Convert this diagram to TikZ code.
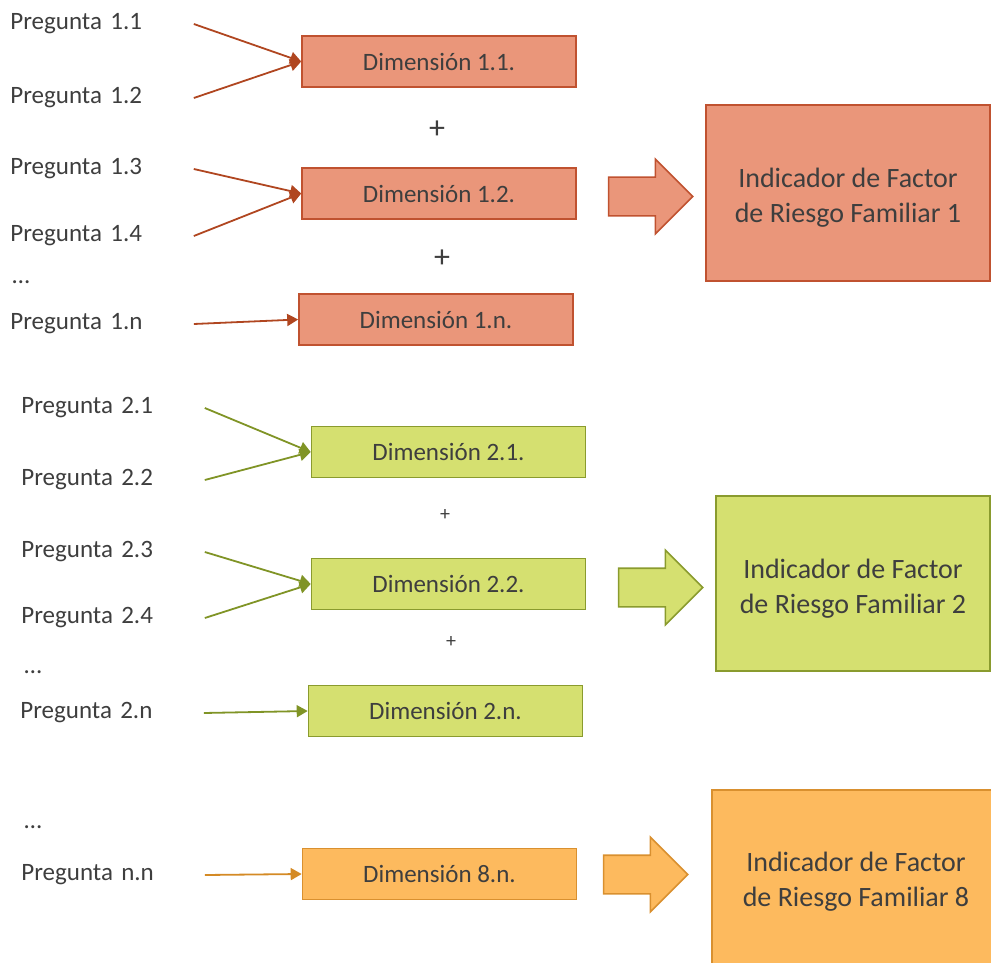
\documentclass[tikz,border=0pt]{standalone}
\usepackage{fontspec}
\setmainfont{Carlito}
\usepackage{xcolor}
\usetikzlibrary{arrows.meta,shapes.arrows}
\definecolor{rojocolor}{RGB}{234, 150, 122}
\definecolor{rojoborde}{RGB}{192, 82, 48}
\definecolor{rojolinea}{RGB}{176, 70, 32}
\definecolor{verdecolor}{RGB}{213, 224, 112}
\definecolor{verdeborde}{RGB}{138, 155, 46}
\definecolor{verdelinea}{RGB}{128, 148, 38}
\definecolor{naranjacolor}{RGB}{253, 186, 94}
\definecolor{naranjaborde}{RGB}{217, 144, 47}
\definecolor{naranjalinea}{RGB}{212, 138, 37}
\definecolor{textocolor}{RGB}{62, 62, 62}

\begin{document}
\begin{tikzpicture}[x=0.5pt, y=-0.5pt,
    pregunta/.style={anchor=west, inner sep=0pt, text width=91.5pt, text=textocolor, font=\fontsize{12.5}{15}\selectfont},
    puntos/.style={anchor=west, inner sep=0pt, text=textocolor, font=\fontsize{12.5}{15}\selectfont},
    dimension/.style={draw=#1borde, fill=#1color, line width=0.8pt, minimum width=137pt, minimum height=25.5pt, inner sep=0pt, text=textocolor, font=\fontsize{12.5}{15}\selectfont},
    indicador/.style={draw=#1borde, fill=#1color, line width=0.8pt, align=center, inner sep=0pt, text=textocolor, font=\fontsize{14}{17.5}\selectfont},
    flecha/.style={draw=#1linea, line width=0.9pt, -{Triangle[length=5.5pt, width=6pt]}},
    flechagrande/.style={single arrow, draw=#1borde, fill=#1color, line width=0.8pt, inner xsep=0pt, inner ysep=9.25pt, minimum height=42pt, single arrow head extend=9pt, single arrow tip angle=90}]

    \useasboundingbox (0,0) rectangle (991,963);
    \clip (0,0) rectangle (991,963);

    % Grupo 1
    \node[pregunta] (q11) at (10,24) {Pregunta 1.1};
    \node[pregunta] (q12) at (10,98) {Pregunta 1.2};
    \node[pregunta] (q13) at (10,169) {Pregunta 1.3};
    \node[pregunta] (q14) at (10,236) {Pregunta 1.4};
    \node[puntos] (p1) at (12,282) {\dots};
    \node[pregunta] (q1n) at (10,324) {Pregunta 1.n};

    \node[dimension=rojo] (d11) at (439,61.5) {Dimensión 1.1.};
    \node[text=textocolor, font=\fontsize{16}{18}\selectfont] (mas11) at (437,130) {+};
    \node[dimension=rojo] (d12) at (439,193.5) {Dimensión 1.2.};
    \node[text=textocolor, font=\fontsize{16}{18}\selectfont] (mas12) at (442,259) {+};
    \node[dimension=rojo] (d1n) at (436,319.5) {Dimensión 1.n.};

    \draw[flecha=rojo] (q11.east) -- (d11.west);
    \draw[flecha=rojo] (q12.east) -- (d11.west);
    \draw[flecha=rojo] (q13.east) -- (d12.west);
    \draw[flecha=rojo] (q14.east) -- (d12.west);
    \draw[flecha=rojo] (q1n.east) -- (d1n.west);

    \node[flechagrande=rojo] (f1) at (641,196.5) {};
    \node[indicador=rojo, minimum width=142pt, minimum height=88pt] (ind1) at (848,193) {\rule{0pt}{14.5pt}Indicador de Factor\\de Riesgo Familiar 1};

    % Grupo 2
    \node[pregunta] (q21) at (21,408) {Pregunta 2.1};
    \node[pregunta] (q22) at (21,480) {Pregunta 2.2};
    \node[pregunta] (q23) at (21,552) {Pregunta 2.3};
    \node[pregunta] (q24) at (21,618) {Pregunta 2.4};
    \node[puntos] (p2) at (24,672) {\dots};
    \node[pregunta] (q2n) at (20,713) {Pregunta 2.n};

    \node[dimension=verde] (d21) at (448.5,452) {Dimensión 2.1.};
    \node[text=textocolor, font=\fontsize{10}{12}\selectfont] (mas21) at (445,515) {+};
    \node[dimension=verde] (d22) at (448.5,584) {Dimensión 2.2.};
    \node[text=textocolor, font=\fontsize{10}{12}\selectfont] (mas22) at (451,642) {+};
    \node[dimension=verde] (d2n) at (445.5,711) {Dimensión 2.n.};

    \draw[flecha=verde] (q21.east) -- (d21.west);
    \draw[flecha=verde] (q22.east) -- (d21.west);
    \draw[flecha=verde] (q23.east) -- (d22.west);
    \draw[flecha=verde] (q24.east) -- (d22.west);
    \draw[flecha=verde] (q2n.east) -- (d2n.west);

    \node[flechagrande=verde] (f2) at (651,587.5) {};
    \node[indicador=verde, minimum width=137pt, minimum height=87.5pt] (ind2) at (853,583.5) {\rule{0pt}{14.5pt}Indicador de Factor\\de Riesgo Familiar 2};

    % Grupo 8
    \node[puntos] (p8) at (24,827) {\dots};
    \node[pregunta] (qnn) at (21,875) {Pregunta n.n};

    \node[dimension=naranja] (d8n) at (439.5,874) {Dimensión 8.n.};
    \draw[flecha=naranja] (qnn.east) -- (d8n.west);

    \node[flechagrande=naranja] (f8) at (636,874.5) {};
    \node[indicador=naranja, minimum width=144pt, minimum height=92pt] (ind8) at (856,882) {Indicador de Factor\\de Riesgo Familiar 8};
\end{tikzpicture}
\end{document}
